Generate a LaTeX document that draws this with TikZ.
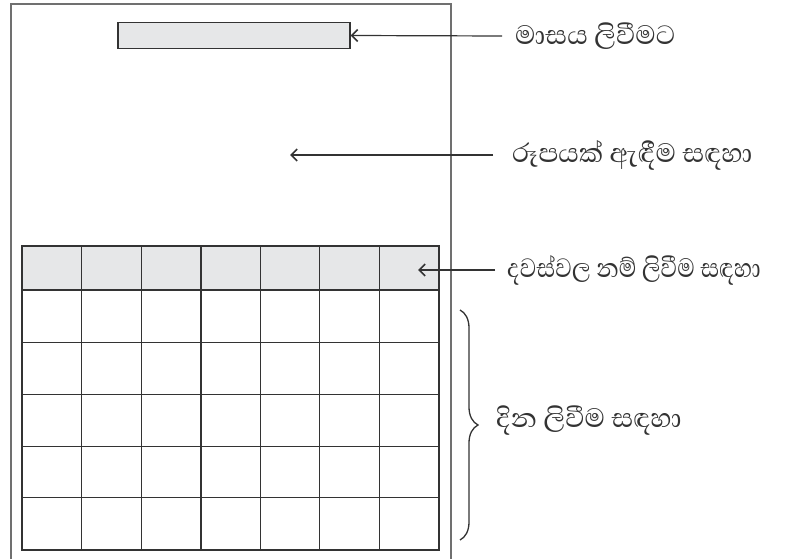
\documentclass[tikz,border=0pt]{standalone}
\usepackage{fontspec}
\usepackage{graphicx}
\newfontfamily\sinhala[Script=Sinhala]{Abhaya Libre}
\usetikzlibrary{arrows.meta,decorations.pathreplacing}
\definecolor{ink}{HTML}{333333}
\definecolor{headfill}{HTML}{E6E7E8}
\definecolor{framecol}{HTML}{707070}
\tikzset{
  lbl/.style={anchor=west, inner xsep=0pt, inner ysep=2pt, text=ink, font=\sinhala\fontsize{34}{39}\selectfont},
  arr/.style={draw=ink, line width=1.2pt, -{Straight Barb[length=6pt,width=12pt,line width=1.6pt]}},
  monthbox/.style={draw=ink, fill=headfill, line width=1.2pt, minimum width=232pt, minimum height=26pt, inner sep=0pt},
  gridline/.style={draw=ink, line width=1.5pt},
  gridouter/.style={draw=ink, line width=2pt},
  bracestyle/.style={draw=ink, line width=1.3pt, decorate, decoration={brace, amplitude=18pt}}
}
\begin{document}
\begin{tikzpicture}[x=1pt,y=-1pt]
\useasboundingbox (0,0) rectangle (805,559);
\fill[white] (0,0) rectangle (805,559);
% outer page frame
\draw[framecol, line width=1.2pt] (11,559) -- (11,4) -- (451,4) -- (451,559);
% month box
\node[monthbox] (month) at (234,35.5) {};
% header fill
\fill[headfill] (21.7,246) rectangle (439,290);
% vertical grid lines
\foreach \x in {81.7,141.3,201,260.3,319.7,379.3}
  \draw[gridline] (\x,246) -- (\x,550);
% horizontal grid lines
\foreach \y in {342.7,394.3,446.7,497.7}
  \draw[gridline] (21.7,\y) -- (439,\y);
\draw[gridouter] (21.7,290) -- (439,290);
\draw[gridouter] (21.7,246) rectangle (439,550);
% labels
\node[lbl] (l1) at (515,36) {මාසය ලිවීමට};
\node[lbl] (l2) at (512,155) {රූපයක් ඇඳීම සඳහා};
\node[lbl] (l3) at (507,270) {\scalebox{0.86}[1]{දවස්වල නම් ලිවීම සඳහා}};
\node[lbl] (l4) at (496,421) {දින ලිවීම සඳහා};
\coordinate (t2) at (290,155);
\coordinate (t3) at (418,270);
\coordinate (b1) at (460,310);
\coordinate (b2) at (460,540);
% connectors
\draw[arr] ([xshift=-13pt]l1.west) -- (month.east);
\draw[arr] ([xshift=-19pt]l2.west) -- (t2);
\draw[arr] ([xshift=-12pt]l3.west) -- (t3);
\draw[bracestyle] (b1) -- (b2);
\end{tikzpicture}
\end{document}
